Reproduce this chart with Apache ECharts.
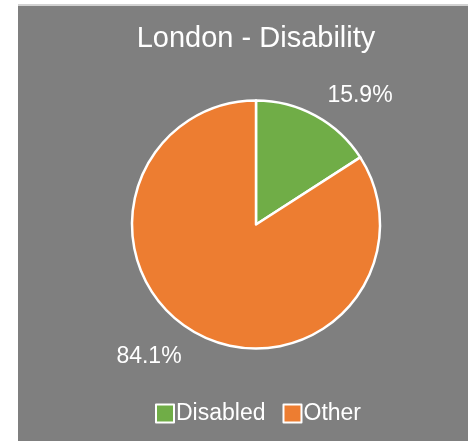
<!DOCTYPE html>
<html>
<head>
<meta charset="utf-8">
<script src="https://cdn.jsdelivr.net/npm/echarts@6/dist/echarts.min.js"></script>
<style>
  html, body { margin: 0; padding: 0; background: #ffffff; }
  #chart { width: 468px; height: 441px; }
</style>
</head>
<body>
<div id="chart"></div>
<script>
// Share of London residents by disability status (%)
const categories = ['Disabled', 'Other'];
const shares = [15.9, 84.1];
const sliceColors = ['#70ad47', '#ed7d31'];

// Where each percentage label sits (pixel centres), by slice
const labelSpots = [[360, 96], [149, 357]];

const FONT = '"Liberation Sans", Arial, Helvetica, sans-serif';

const chart = echarts.init(document.getElementById('chart'), null, { renderer: 'canvas' });

chart.setOption({
  animation: false,
  backgroundColor: '#ffffff',
  graphic: [
    { type: 'rect', shape: { x: 18, y: 4, width: 450, height: 2 }, style: { fill: '#d2d2d2' }, z: -10 },
    { type: 'rect', shape: { x: 18, y: 6, width: 450, height: 435 }, style: { fill: '#7f7f7f' }, z: -10 }
  ],
  title: {
    text: 'London - Disability',
    left: 251,
    textAlign: 'center',
    top: 19,
    textStyle: { color: '#ffffff', fontSize: 29, fontWeight: 'normal', fontFamily: FONT }
  },
  legend: {
    data: categories,
    left: 150,
    top: 397,
    itemWidth: 18,
    itemHeight: 18,
    itemGap: 17,
    icon: 'rect',
    itemStyle: { borderColor: '#ffffff', borderWidth: 2 },
    textStyle: { color: '#ffffff', fontSize: 23, fontFamily: FONT, padding: [0, 0, 0, -3] }
  },
  series: [{
    type: 'pie',
    center: [256, 224.5],
    radius: 124,
    startAngle: 90,
    clockwise: true,
    avoidLabelOverlap: false,
    itemStyle: { borderColor: '#ffffff', borderWidth: 2.5 },
    label: {
      show: true,
      position: 'outside',
      color: '#ffffff',
      fontSize: 23,
      fontFamily: FONT,
      formatter: p => p.value.toFixed(1) + '%'
    },
    labelLine: { show: false },
    labelLayout: p => ({
      x: labelSpots[p.dataIndex][0],
      y: labelSpots[p.dataIndex][1],
      align: 'center',
      verticalAlign: 'middle'
    }),
    emphasis: { disabled: true },
    data: categories.map((name, i) => ({
      name: name,
      value: shares[i],
      itemStyle: { color: sliceColors[i] }
    }))
  }]
});
</script>
</body>
</html>
